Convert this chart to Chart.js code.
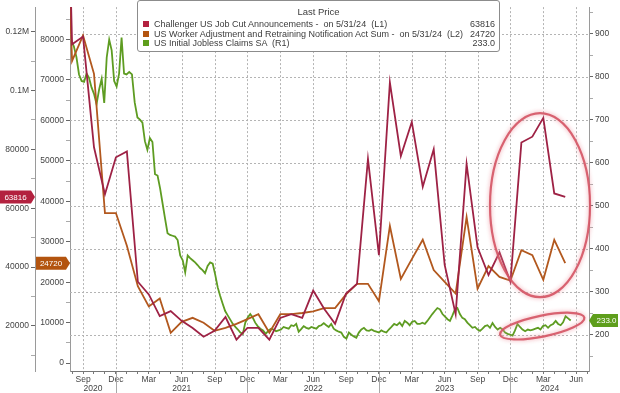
<!DOCTYPE html>
<html>
<head>
<meta charset="utf-8">
<script src="https://cdn.jsdelivr.net/npm/chart.js@4.4.1/dist/chart.umd.min.js"></script>
<style>
  body { margin: 0; background: #fff; }
  #wrap { position: relative; width: 620px; height: 393px; overflow: hidden; }
  #legend {
    position: absolute; left: 137px; top: 0; width: 363px; height: 52px;
    box-sizing: border-box; border: 1px solid #8c8c8c; border-radius: 3px;
    background: #fff; font: 9px "Liberation Sans", Arial, sans-serif; color: #3c3c3c;
  }
  #legend .ttl { position: absolute; top: 5px; left: 0; right: 0; text-align: center; font-size: 9.5px; }
  #legend .row { position: absolute; left: 5px; right: 4px; height: 10px; line-height: 10px; }
  #legend .sq { position: absolute; left: 0; top: 2px; width: 6px; height: 6px; }
  #legend .nm { position: absolute; left: 11px; white-space: pre; }
  #legend .val { position: absolute; right: 0; }
</style>
</head>
<body>
<div id="wrap">
  <canvas id="chart" width="620" height="393"></canvas>
  <div id="legend"><div class="ttl">Last Price</div></div>
</div>
<script>
// monthly series, Jul 2020 .. May 2024 (plotted at month end)
const challenger = [
  262649, 115700, 118300, 80700, 64700, 77300,
  79300, 35000, 30700, 23300, 25000, 21700, 19300, 16300, 18300, 23000, 15300, 19300,
  19300, 15300, 22700, 24000, 22700, 32000, 25800, 20700, 31000, 34300, 76700, 44000,
  102700, 77700, 89300, 67300, 80000, 40700, 24000, 75000, 46700, 37300, 45000, 35000,
  82300, 84300, 90700, 65000, 63816
];
const warnSum = [
  150000, 74700, 81000, 71500, 37100, 37100,
  29000, 19000, 14000, 16000, 7500, 10200, 11200, 10000, 8000, 8700, 9700, 10900,
  12100, 7500, 12100, 12100, 12400, 12800, 13600, 13600, 17000, 19600, 19600, 15300,
  33900, 20800, 25700, 30500, 23000, 20100, 17200, 36100, 18400, 24000, 21300, 20400,
  27900, 26700, 20600, 30500, 24720
];
// weekly initial claims (thousands), weeks ending 2020-08-29 onwards
const claims = [
  884, 870, 845, 805, 790, 788, 807, 797, 775, 760, 736, 770, 795, 739, 845, 886,
  861, 790, 777, 807, 891, 807, 805, 811, 805, 740, 705, 700, 693, 650, 630, 657,
  648, 573, 570, 540, 505, 470, 436, 432, 430, 428, 420, 384, 373, 345, 384, 378,
  373, 368, 362, 355, 350, 343, 360, 368, 365, 339, 310, 290, 272, 255, 245, 235,
  225, 218, 212, 205, 202, 228, 240, 248, 240, 228, 220, 214, 210, 202, 210, 214,
  212, 208, 210, 212, 218, 216, 214, 222, 220, 225, 207, 213, 220, 216, 214, 218,
  216, 214, 220, 222, 227, 222, 218, 225, 214, 210, 207, 205, 195, 191, 205, 200,
  196, 193, 205, 212, 216, 210, 209, 212, 209, 207, 205, 210, 207, 205, 212, 218,
  225, 222, 228, 220, 232, 228, 222, 230, 232, 225, 225, 228, 225, 232, 240, 248,
  255, 262, 259, 248, 242, 236, 232, 245, 259, 262, 248, 239, 236, 228, 222, 216,
  218, 212, 209, 214, 220, 222, 216, 227, 218, 212, 216, 212, 205, 202, 200, 198,
  210, 225, 218, 212, 208, 212, 210, 212, 214, 216, 212, 220, 222, 216, 222, 225,
  232, 225, 222, 229, 243, 238, 233
];
const seriesNames = [
  'Challenger US Job Cut Announcements -  on 5/31/24  (L1)',
  'US Worker Adjustment and Retraining Notification Act Sum -  on 5/31/24  (L2)',
  'US Initial Jobless Claims SA  (R1)'
];
const lastLabels = ['63816', '24720', '233.0'];
const monthNames = ['Jan','Feb','Mar','Apr','May','Jun','Jul','Aug','Sep','Oct','Nov','Dec'];
const years = ['2020', '2021', '2022', '2023', '2024'];
const l1Ticks = [10000, 20000, 30000, 40000, 50000, 60000, 70000, 80000, 90000, 100000, 110000, 120000];
const l2Ticks = [0, 5000, 10000, 15000, 20000, 25000, 30000, 35000, 40000, 45000, 50000, 55000, 60000, 65000, 70000, 75000, 80000, 85000];
const r1Ticks = [150, 200, 250, 300, 350, 400, 450, 500, 550, 600, 650, 700, 750, 800, 850, 900, 950];
// circled areas: centre in (month position, R1 value)
const bigCircle = [50.7, 501];
const smallCircle = [50.9, 220];

// x position: months since Jan 2020, month end of Jul 2020 = 7
const monthly = arr => arr.map((v, i) => ({x: 7 + i, y: v}));
const weekly = arr => arr.map((v, i) => {
  const d = new Date(2020, 7, 29 + 7 * i);
  const dim = new Date(d.getFullYear(), d.getMonth() + 1, 0).getDate();
  return {x: (d.getFullYear() - 2020) * 12 + d.getMonth() + d.getDate() / dim, y: v};
});

const colors = ['#9e2245', '#b2581e', '#5e9c22'];
const tagColors = ['#b3213f', '#b3540f', '#5e9e1c'];

// legend
const lg = document.getElementById('legend');
seriesNames.forEach((n, i) => {
  const r = document.createElement('div');
  r.className = 'row';
  r.style.top = (18 + i * 9.6) + 'px';
  r.innerHTML = '<span class="sq" style="background:' + tagColors[i] + '"></span><span class="nm"></span><span class="val"></span>';
  r.querySelector('.nm').textContent = n;
  r.querySelector('.val').textContent = lastLabels[i];
  lg.appendChild(r);
});

const tickFont = {size: 8.5};
const xLabel = v => v % 3 === 0 ? monthNames[(v - 1) % 12] : '';
const r1Label = v => (v % 100 || v > 900 || v < 200) ? '' : String(v);

// dotted grid: quarter ticks of x, labelled ticks of R1
const dottedGrid = {
  id: 'dottedGrid',
  beforeDatasetsDraw(chart) {
    const {ctx, chartArea: ca} = chart;
    const {x, yR1} = chart.scales;
    ctx.save();
    ctx.strokeStyle = '#b4b4b4';
    ctx.lineWidth = 1;
    ctx.setLineDash([2, 2]);
    x.ticks.forEach(t => {
      if (xLabel(t.value) === '') return;
      const px = Math.round(x.getPixelForValue(t.value)) + 0.5;
      ctx.beginPath(); ctx.moveTo(px, ca.top); ctx.lineTo(px, ca.bottom); ctx.stroke();
    });
    yR1.ticks.forEach(t => {
      if (r1Label(t.value) === '') return;
      const py = Math.round(yR1.getPixelForValue(t.value)) + 0.5;
      ctx.beginPath(); ctx.moveTo(ca.left, py); ctx.lineTo(ca.right, py); ctx.stroke();
    });
    ctx.restore();
  }
};

const overlay = {
  id: 'overlay',
  afterDraw(chart) {
    const {ctx, chartArea: ca} = chart;
    const {x, yL1, yL2, yR1} = chart.scales;
    ctx.save();
    // years under the month labels
    const bounds = [x.min, 12, 24, 36, 48, x.max];
    ctx.strokeStyle = '#a8a8a8';
    ctx.lineWidth = 1;
    ctx.fillStyle = '#444';
    ctx.font = '8.5px "Liberation Sans", Arial, sans-serif';
    ctx.textAlign = 'center';
    ctx.textBaseline = 'middle';
    for (let i = 1; i < bounds.length - 1; i++) {
      const px = Math.round(x.getPixelForValue(bounds[i])) + 0.5;
      ctx.beginPath();
      ctx.moveTo(px, ca.bottom + 1);
      ctx.lineTo(px, 393);
      ctx.stroke();
    }
    years.forEach((yr, i) => {
      ctx.fillText(yr, x.getPixelForValue((bounds[i] + bounds[i + 1]) / 2), 389);
    });

    // circles
    ctx.strokeStyle = 'rgba(212, 84, 100, 0.9)';
    ctx.lineWidth = 2.2;
    ctx.shadowColor = 'rgba(238, 150, 160, 1)';
    ctx.shadowBlur = 4;
    ctx.beginPath();
    ctx.ellipse(x.getPixelForValue(bigCircle[0]), yR1.getPixelForValue(bigCircle[1]), 50, 92, 0, 0, Math.PI * 2);
    ctx.stroke();
    ctx.beginPath();
    ctx.ellipse(x.getPixelForValue(smallCircle[0]), yR1.getPixelForValue(smallCircle[1]), 43, 10.5, -0.2, 0, Math.PI * 2);
    ctx.stroke();
    ctx.shadowBlur = 0;

    // last value tags
    ctx.font = '8px "Liberation Sans", Arial, sans-serif';
    const tag = (x0, x1, tip, yc, col, txt) => {
      ctx.fillStyle = col;
      ctx.beginPath();
      if (tip > x1) {
        ctx.moveTo(x0, yc - 6.5); ctx.lineTo(x1, yc - 6.5); ctx.lineTo(tip, yc);
        ctx.lineTo(x1, yc + 6.5); ctx.lineTo(x0, yc + 6.5);
      } else {
        ctx.moveTo(tip, yc); ctx.lineTo(x0, yc - 6.5); ctx.lineTo(x1, yc - 6.5);
        ctx.lineTo(x1, yc + 6.5); ctx.lineTo(x0, yc + 6.5);
      }
      ctx.closePath();
      ctx.fill();
      ctx.fillStyle = '#fff';
      ctx.fillText(txt, (x0 + x1) / 2 + (tip > x1 ? 0 : 1), yc + 0.5);
    };
    const l1 = yL1.left + yL1.width, l2 = yL2.left + yL2.width;
    tag(0, l1 - 4, l1, yL1.getPixelForValue(challenger[challenger.length - 1]), tagColors[0], lastLabels[0]);
    tag(l1 + 1, l2 - 4, l2, yL2.getPixelForValue(warnSum[warnSum.length - 1]), tagColors[1], lastLabels[1]);
    tag(ca.right + 4, 618, ca.right, yR1.getPixelForValue(claims[claims.length - 1]), tagColors[2], lastLabels[2]);
    ctx.restore();
  }
};

const sideAxis = (pos, weight, min, max, ticks, labelOf, w) => ({
  type: 'linear', position: pos, weight: weight, min: min, max: max,
  afterBuildTicks: s => { s.ticks = ticks.map(v => ({value: v})); },
  afterFit: s => { s.width = w; },
  ticks: { font: tickFont, color: '#444', padding: 2, callback: labelOf },
  grid: {
    drawOnChartArea: false, tickLength: 4,
    tickColor: c => (c.tick && labelOf(c.tick.value) !== '') ? '#666' : '#aaa'
  },
  border: { color: '#9a9a9a' }
});

new Chart('chart', {
  type: 'line',
  data: {
    datasets: [{
      label: seriesNames[0], yAxisID: 'yL1',
      borderColor: colors[0], borderWidth: 1.8, pointRadius: 0,
      data: monthly(challenger)
    }, {
      label: seriesNames[1], yAxisID: 'yL2',
      borderColor: colors[1], borderWidth: 1.8, pointRadius: 0,
      data: monthly(warnSum)
    }, {
      label: seriesNames[2], yAxisID: 'yR1',
      borderColor: colors[2], borderWidth: 1.8, pointRadius: 0,
      data: weekly(claims)
    }]
  },
  options: {
    responsive: false, animation: false, devicePixelRatio: 1,
    layout: { padding: 0, autoPadding: false },
    plugins: { legend: { display: false }, tooltip: { enabled: false } },
    scales: {
      x: {
        type: 'linear', min: 7.81, max: 55.17,
        afterBuildTicks: s => {
          const t = [];
          for (let m = 8; m <= 55; m++) t.push({value: m});
          s.ticks = t;
        },
        afterFit: s => { s.height = 22; },
        ticks: {
          font: tickFont, color: '#444', padding: 1, maxRotation: 0, autoSkip: false,
          callback: xLabel
        },
        grid: { drawOnChartArea: false, tickLength: 3, tickColor: '#777' },
        border: { color: '#777' }
      },
      yL1: sideAxis('left', 1, 4667, 128333, l1Ticks,
        v => v % 20000 ? '' : (v >= 100000 ? (v / 1e6) + 'M' : String(v)), 35),
      yL2: sideAxis('left', 0, -1939, 88000, l2Ticks,
        v => v % 10000 ? '' : String(v), 35),
      yR1: sideAxis('right', 0, 115.6, 961.6, r1Ticks, r1Label, 31)
    }
  },
  plugins: [dottedGrid, overlay]
});
</script>
</body>
</html>
